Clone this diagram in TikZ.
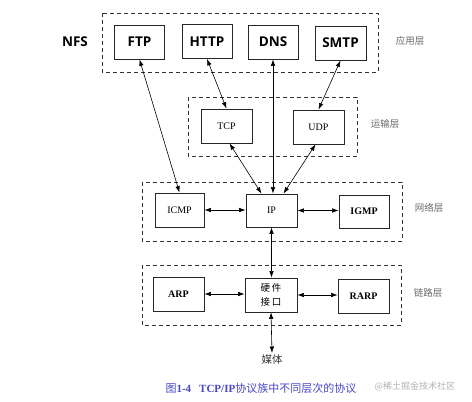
\documentclass[tikz,border=0pt]{standalone}
\usepackage{fontspec}
\setmainfont{Liberation Serif}
\newfontfamily\topfont{Open Sans}
\newfontfamily\cjk{Noto Sans CJK SC}
\usetikzlibrary{arrows.meta,calc}
\definecolor{capblue}{RGB}{70,70,200}
\definecolor{laygray}{RGB}{105,105,105}
\tikzset{
  protobox/.style={draw=black!85,line width=0.8pt,minimum width=50pt,minimum height=34pt,inner sep=0pt},
  appbox/.style={protobox,font=\topfont\bfseries\fontsize{13.5}{14}\selectfont},
  lowbox/.style={protobox,font=\fontsize{10}{11}\selectfont},
  layerbox/.style={draw=black!80,line width=0.8pt,dash pattern=on 4pt off 3pt},
  layerlabel/.style={font=\cjk\fontsize{9.5}{10}\selectfont,text=laygray},
  link/.style={line width=0.6pt,{Latex[length=6.5pt,width=4.5pt]}-{Latex[length=6.5pt,width=4.5pt]}}
}
\begin{document}
\begin{tikzpicture}[x=1pt,y=-1pt]
\useasboundingbox (0,0) rectangle (472,402);
% layer boxes
\draw[layerbox] (102,13) rectangle (378,72);
\draw[layerbox] (188,97) rectangle (357,156);
\draw[layerbox] (142,182) rectangle (402,241);
\draw[layerbox] (142,265) rectangle (401,325);
% application
\node[font=\topfont\bfseries\fontsize{13.5}{14}\selectfont] (nfs) at (75,42) {NFS};
\node[appbox] (ftp) at (139.5,42) {FTP};
\node[appbox] (http) at (207,41.5) {HTTP};
\node[appbox] (dns) at (273,42) {DNS};
\node[appbox,minimum width=51pt] (smtp) at (340.5,43) {SMTP};
\node[layerlabel] (lapp) at (410,41) {应用层};
% transport
\node[lowbox,minimum width=51pt] (tcp) at (226.5,126) {TCP};
\node[lowbox,minimum width=51pt] (udp) at (318.5,127) {UDP};
\node[layerlabel] (ltr) at (385,124) {运输层};
% network
\node[lowbox,minimum width=49pt] (icmp) at (179.5,210) {ICMP};
\node[lowbox,minimum width=51pt,minimum height=33pt] (ip) at (271.5,210.5) {IP};
\node[lowbox,font=\bfseries\fontsize{10}{11}\selectfont,minimum height=33pt] (igmp) at (364,211.5) {IGMP};
\node[layerlabel] (lnet) at (429,208) {网络层};
% link
\node[lowbox,font=\bfseries\fontsize{10}{11}\selectfont,minimum width=51pt] (arp) at (178.5,294) {ARP};
\node[lowbox,font=\cjk\fontsize{9.5}{14}\selectfont,align=center,minimum width=52pt] (hw) at (271,295) {硬\,件\\接\,口};
\node[lowbox,font=\bfseries\fontsize{10}{11}\selectfont,minimum width=51pt] (rarp) at (363.5,296) {RARP};
\node[layerlabel] (llink) at (428,293) {链路层};
\node[font=\cjk\fontsize{10.5}{11}\selectfont,text=black!80,inner sep=1pt,anchor=north] (media) at (272,353) {媒体};
% caption
\node[text=capblue,font=\fontsize{11}{12}\selectfont,anchor=west] (cap) at (162,388)
  {{\cjk 图}\textbf{1-4}\hspace{8pt}\textbf{TCP/IP}{\cjk 协议族中不同层次的协议}};
\node[text=black!30,font=\cjk\fontsize{9}{10}\selectfont,anchor=west] (wm) at (371,386) {@稀土掘金技术社区};
% connectors
\draw[link] (ftp.south) -- (icmp.north);
\draw[link] (http.south) -- (tcp.north);
\draw[link] (dns.south) -- (dns.south |- ip.north);
\draw[link] (smtp.south) -- (udp.north);
\draw[link] ([xshift=3pt]tcp.south) -- ([xshift=-10pt]ip.north);
\draw[link] ([xshift=-3pt]udp.south) -- ([xshift=12pt]ip.north);
\draw[link] (icmp.east) -- (icmp.east -| ip.west);
\draw[link] (ip.east) -- (ip.east -| igmp.west);
\draw[link] (ip.south) -- (ip.south |- hw.north);
\draw[link] (arp.east) -- (arp.east -| hw.west);
\draw[link] (hw.east) -- (hw.east -| rarp.west);
\draw[link] (hw.south) -- (media.north);
\end{tikzpicture}
\end{document}
